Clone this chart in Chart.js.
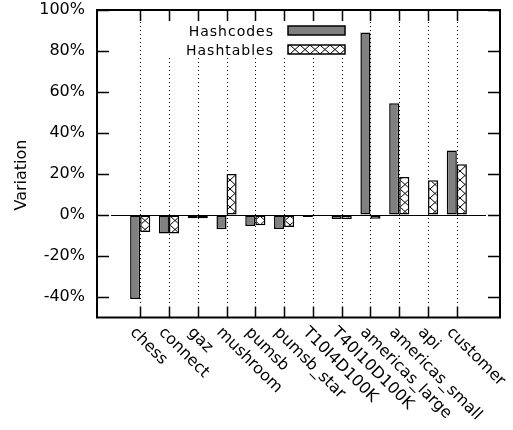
<!DOCTYPE html>
<html>
<head>
<meta charset="utf-8">
<script src="https://cdn.jsdelivr.net/npm/chart.js@4.4.0/dist/chart.umd.min.js"></script>
<style>
  html, body { margin: 0; padding: 0; background: #fff; }
</style>
</head>
<body>
<canvas id="chart" width="513" height="430"></canvas>
<script>
// values (percent)
const categories = ['chess', 'connect', 'gaz', 'mushroom', 'pumsb', 'pumsb_star',
    'T10I4D100K', 'T40I10D100K', 'americas_large', 'americas_small', 'api', 'customer'];
const hashcodes = [-41, -9, -1.6, -7, -5.4, -6.8, -1, -2, 89, 54.5, 0, 31.5];
const hashtables = [-8.3, -9, -1.6, 20, -5, -5.8, -0.4, -2, -1.8, 18.5, 17, 24.8];
const yTicks = [-40, -20, 0, 20, 40, 60, 80, 100];
const seriesNames = ['Hashcodes', 'Hashtables'];

const FONT = 'DejaVu Sans';

// one empty slot on each side gives the wide margins of the original
const labels = ['', ...categories, ''];
const pad = arr => [null, ...arr, null];

function crossHatch() {
    const c = document.createElement('canvas');
    c.width = 10; c.height = 9;
    const g = c.getContext('2d');
    g.fillStyle = '#fff';
    g.fillRect(0, 0, 10, 9);
    g.strokeStyle = '#000';
    g.lineWidth = 1;
    g.beginPath();
    g.moveTo(0, 0); g.lineTo(10, 9);
    g.moveTo(10, 0); g.lineTo(0, 9);
    g.stroke();
    return g.createPattern(c, 'repeat');
}
const hatch = crossHatch();

const frame = {
    id: 'frame',
    beforeDatasetsDraw(chart) {
        const { ctx, chartArea: a, scales: { x, y } } = chart;
        ctx.save();
        // dotted verticals, cut away under the legend
        ctx.strokeStyle = '#000';
        ctx.lineWidth = 1;
        ctx.setLineDash([1, 3]);
        categories.forEach((c, i) => {
            const px = Math.round(x.getPixelForValue(i + 1)) + 0.5;
            const top = (px > 160 && px < 356) ? 58 : a.top + 12;
            ctx.beginPath();
            ctx.moveTo(px, top);
            ctx.lineTo(px, a.bottom - 12);
            ctx.stroke();
        });
        ctx.setLineDash([]);
        // zero axis
        const y0 = Math.round(y.getPixelForValue(0)) + 0.5;
        ctx.beginPath();
        ctx.moveTo(a.left + 14, y0);
        ctx.lineTo(a.right - 14, y0);
        ctx.stroke();
        ctx.restore();
    },
    afterDraw(chart) {
        const { ctx, chartArea: a, scales: { x, y } } = chart;
        ctx.save();
        ctx.strokeStyle = '#000';
        ctx.lineWidth = 1.5;
        // inward ticks on all four sides
        ctx.beginPath();
        yTicks.forEach(v => {
            const py = Math.round(y.getPixelForValue(v)) + 0.5;
            ctx.moveTo(a.left, py); ctx.lineTo(a.left + 12, py);
            ctx.moveTo(a.right, py); ctx.lineTo(a.right - 12, py);
        });
        categories.forEach((c, i) => {
            const px = Math.round(x.getPixelForValue(i + 1)) + 0.5;
            ctx.moveTo(px, a.top); ctx.lineTo(px, a.top + 11);
            ctx.moveTo(px, a.bottom); ctx.lineTo(px, a.bottom - 11);
        });
        ctx.stroke();
        // border
        ctx.lineWidth = 2;
        ctx.strokeRect(a.left, a.top, a.right - a.left, a.bottom - a.top);

        // rotated category names
        ctx.fillStyle = '#000';
        ctx.font = '16px "' + FONT + '"';
        ctx.textAlign = 'left';
        ctx.textBaseline = 'top';
        categories.forEach((c, i) => {
            const px = x.getPixelForValue(i + 1);
            ctx.save();
            ctx.translate(px - 2, a.bottom + 7);
            ctx.rotate(Math.PI / 4);
            ctx.fillText(c, 0, 0);
            ctx.restore();
        });

        // y title
        ctx.save();
        ctx.translate(22, 175);
        ctx.rotate(-Math.PI / 2);
        ctx.textAlign = 'center';
        ctx.textBaseline = 'middle';
        ctx.fillText('Variation', 0, 0);
        ctx.restore();

        // legend
        ctx.font = '14px "' + FONT + '"';
        ctx.letterSpacing = '1px';
        ctx.textAlign = 'right';
        ctx.textBaseline = 'alphabetic';
        const rows = [{ y: 26, fill: '#808080' }, { y: 45, fill: hatch }];
        rows.forEach((r, i) => {
            ctx.fillText(seriesNames[i], 274, r.y + 10);
            ctx.fillStyle = r.fill;
            ctx.fillRect(288, r.y, 57, 9);
            ctx.lineWidth = 1.5;
            ctx.strokeRect(288, r.y, 57, 9);
            ctx.fillStyle = '#000';
        });
        ctx.restore();
    }
};

new Chart(document.getElementById('chart'), {
    type: 'bar',
    data: {
        labels: labels,
        datasets: [
            {
                label: seriesNames[0],
                data: pad(hashcodes),
                backgroundColor: '#808080',
                borderColor: '#000',
                borderWidth: 1.5,
                borderSkipped: false
            },
            {
                label: seriesNames[1],
                data: pad(hashtables),
                backgroundColor: hatch,
                borderColor: '#000',
                borderWidth: 1.5,
                borderSkipped: false
            }
        ]
    },
    options: {
        responsive: false,
        animation: false,
        categoryPercentage: 0.7,
        barPercentage: 1.0,
        layout: { padding: { left: 0, top: 10, right: 13, bottom: 112.5 } },
        plugins: {
            legend: { display: false },
            tooltip: { enabled: false }
        },
        scales: {
            x: { display: false, offset: true },
            y: {
                min: -50,
                max: 100,
                afterBuildTicks: s => { s.ticks = yTicks.map(v => ({ value: v })); },
                afterFit: s => { s.width = 97; },
                // invisible tick marks just to push the labels off the frame
                grid: { display: true, drawOnChartArea: false, drawTicks: true, tickLength: 12, tickColor: 'rgba(0,0,0,0)' },
                border: { display: false },
                ticks: {
                    padding: 0,
                    color: '#000',
                    font: { family: FONT, size: 16 },
                    callback: v => v + '%'
                }
            }
        }
    },
    plugins: [frame]
});
</script>
</body>
</html>
